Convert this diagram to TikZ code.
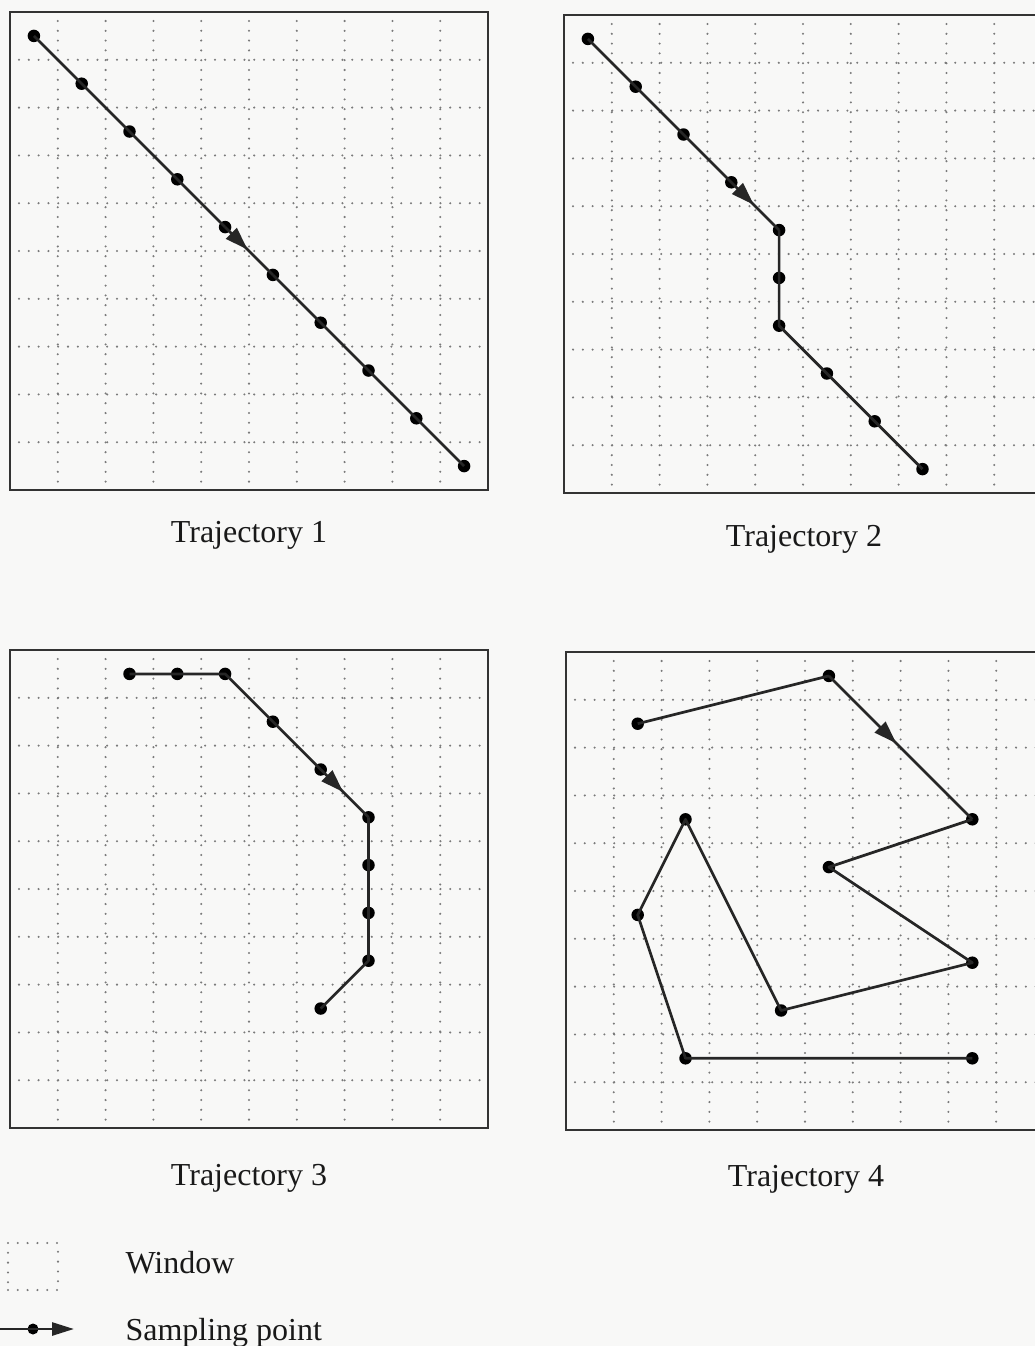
\documentclass[tikz,border=0pt]{standalone}
\usepackage{fontspec}
\setmainfont{Liberation Serif}
\usetikzlibrary{arrows.meta,decorations.markings}
\definecolor{bgc}{RGB}{248,248,247}
\def\cellsz{47.8}
\newcommand\wingrid{%
  \foreach \k in {1,...,9} {
    \draw[gridline] ({\k*\cellsz},9) -- ({\k*\cellsz},{10*\cellsz-8});
    \draw[gridline] (9,{\k*\cellsz}) -- ({10*\cellsz-8},{\k*\cellsz});
  }
  \draw[frame] (0,0) rectangle ({10*\cellsz},{10*\cellsz});
}
\tikzset{
  frame/.style={draw=black!80, line width=2.3pt},
  gridline/.style={draw=black!52, line width=2.3pt, dash pattern=on 0pt off 9.8pt, line cap=round},
  pt/.style={circle, fill=black, draw=none, inner sep=0pt, minimum size=12.5pt},
  traj/.style={draw=black!85, line width=2.7pt, line join=round},
  midarrow/.style={postaction={decorate}, decoration={markings, mark=at position 0.47 with {\arrow{Triangle[length=23pt,width=15pt]}}}},
  lbl/.style={font=\fontsize{32}{38}\selectfont, anchor=base, text=black!90},
}
\begin{document}
\begin{tikzpicture}[x=1pt,y=-1pt]
\path[use as bounding box, fill=bgc] (0,0) rectangle (1035,1346);
\clip (0,0) rectangle (1035,1346);

% ---------- Trajectory 1
\begin{scope}[shift={(10,12)}]
  \wingrid
  \foreach \i/\j [count=\n] in {0/0,1/1,2/2,3/3,4/4,5/5,6/6,7/7,8/8,9/9}
    \node[pt] (a\n) at ({\cellsz*(\i+0.5)},{\cellsz*(\j+0.5)}) {};
  \draw[traj] (a1.center) -- (a2.center) -- (a3.center) -- (a4.center) -- (a5.center);
  \draw[traj, midarrow] (a5.center) -- (a6.center);
  \draw[traj] (a6.center) -- (a7.center) -- (a8.center) -- (a9.center) -- (a10.center);
\end{scope}
\node[lbl] (l1) at (249,542.7) {Trajectory 1};

% ---------- Trajectory 2
\begin{scope}[shift={(564,15)}]
  \wingrid
  \foreach \i/\j [count=\n] in {0/0,1/1,2/2,3/3,4/4,4/5,4/6,5/7,6/8,7/9}
    \node[pt] (b\n) at ({\cellsz*(\i+0.5)},{\cellsz*(\j+0.5)}) {};
  \draw[traj] (b1.center) -- (b2.center) -- (b3.center) -- (b4.center);
  \draw[traj, midarrow] (b4.center) -- (b5.center);
  \draw[traj] (b5.center) -- (b6.center) -- (b7.center) -- (b8.center) -- (b9.center) -- (b10.center);
\end{scope}
\node[lbl] (l2) at (804,546.5) {Trajectory 2};

% ---------- Trajectory 3
\begin{scope}[shift={(10,650)}]
  \wingrid
  \foreach \i/\j [count=\n] in {2/0,3/0,4/0,5/1,6/2,7/3,7/4,7/5,7/6,6/7}
    \node[pt] (c\n) at ({\cellsz*(\i+0.5)},{\cellsz*(\j+0.5)}) {};
  \draw[traj] (c1.center) -- (c2.center) -- (c3.center) -- (c4.center) -- (c5.center);
  \draw[traj, midarrow] (c5.center) -- (c6.center);
  \draw[traj] (c6.center) -- (c7.center) -- (c8.center) -- (c9.center) -- (c10.center);
\end{scope}
\node[lbl] (l3) at (249,1185) {Trajectory 3};

% ---------- Trajectory 4
\begin{scope}[shift={(566,652)}]
  \wingrid
  \foreach \i/\j [count=\n] in {1/1,5/0,8/3,5/4,8/6,4/7,2/3,1/5,2/8,8/8}
    \node[pt] (d\n) at ({\cellsz*(\i+0.5)},{\cellsz*(\j+0.5)}) {};
  \draw[traj] (d1.center) -- (d2.center);
  \draw[traj, midarrow] (d2.center) -- (d3.center);
  \draw[traj] (d3.center) -- (d4.center) -- (d5.center) -- (d6.center) -- (d7.center) -- (d8.center) -- (d9.center) -- (d10.center);
\end{scope}
\node[lbl] (l4) at (806,1186.5) {Trajectory 4};

% ---------- Legend
\node[gridline, draw, minimum width=50pt, minimum height=47pt, inner sep=0pt] (legwin) at (33,1266.5) {};
\node[lbl, anchor=base west] (lwtext) at (122,1273.3) {Window};
\coordinate (la) at (0,1329);
\node[pt, minimum size=11pt] (ld) at (33,1329) {};
\coordinate (lb) at (74,1329);
\draw[traj] (la) -- (ld.center);
\draw[traj, -{Triangle[length=22pt,width=13pt]}] (ld.center) -- (lb);
\node[lbl, anchor=base west] (lstext) at (122,1340) {Sampling point};
\end{tikzpicture}
\end{document}
